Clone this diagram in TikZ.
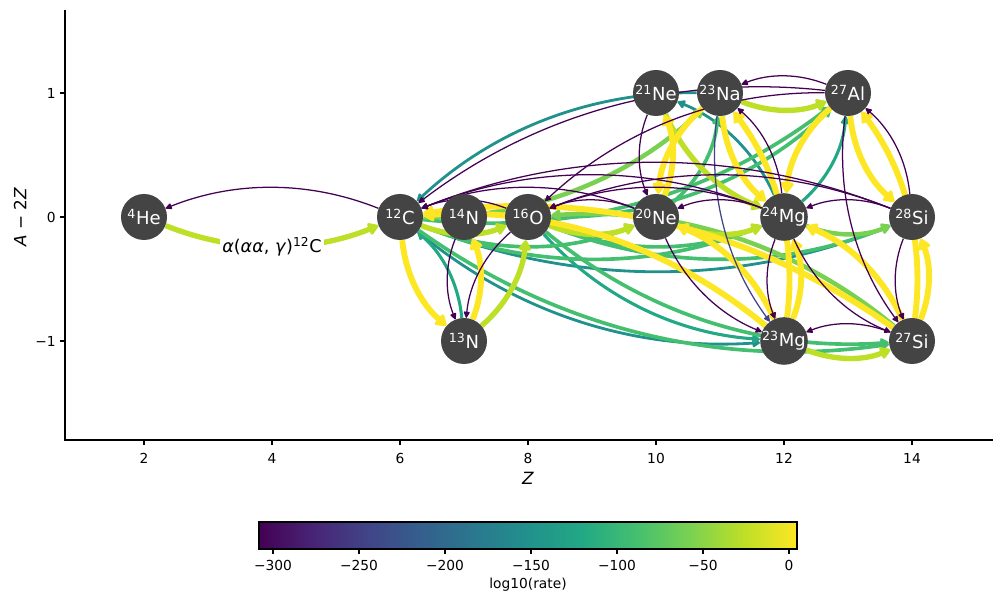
\documentclass[tikz,border=0pt]{standalone}
\usepackage{fontspec}
\setmainfont{DejaVu Sans}
\usetikzlibrary{arrows.meta}
\definecolor{vA}{HTML}{440154}
\definecolor{vB}{HTML}{482475}
\definecolor{vC}{HTML}{414487}
\definecolor{vD}{HTML}{355F8D}
\definecolor{vE}{HTML}{2A788E}
\definecolor{vF}{HTML}{21918C}
\definecolor{vG}{HTML}{22A884}
\definecolor{vH}{HTML}{44BF70}
\definecolor{vI}{HTML}{7AD151}
\definecolor{vJ}{HTML}{BDDF26}
\definecolor{vK}{HTML}{FDE725}
\definecolor{ndark}{HTML}{444444}
\pgfdeclarehorizontalshading{viridisbar}{100bp}{color(0bp)=(vA); color(25bp)=(vA); color(30bp)=(vB); color(35bp)=(vC); color(40bp)=(vD); color(45bp)=(vE); color(50bp)=(vF); color(55bp)=(vG); color(60bp)=(vH); color(65bp)=(vI); color(70bp)=(vJ); color(75bp)=(vK); color(100bp)=(vK)}
\pgfdeclarelayer{edges}
\pgfsetlayers{edges,main}
\begin{document}
\begin{tikzpicture}[x=0.025cm, y=0.025cm,
  nuc/.style={circle, fill=ndark, text=white, minimum size=1.15cm, inner sep=0pt, font=\fontsize{12.8}{14}\selectfont},
  ed/.style={-{Triangle[length=4pt 1.1, width=3pt 1.8, round]}, bend right=21.8, looseness=0.9},
  pur/.style={draw=vA, line width=0.9pt},
  blu/.style={draw=vC, line width=0.9pt},
  tea/.style={draw=vF, line width=2pt},
  tgr/.style={draw=vG, line width=2.2pt},
  grn/.style={draw=vH, line width=2.6pt},
  lgr/.style={draw=vI, line width=3.2pt},
  lim/.style={draw=vJ, line width=3.8pt},
  yel/.style={draw=vK, line width=4.2pt},
  lbl/.style={fill=white, inner sep=1.5pt, text=black, font=\fontsize{12.5}{14}\selectfont},
  tick/.style={font=\fontsize{9.8}{12}\selectfont, inner sep=0pt},
  axl/.style={font=\fontsize{12}{14}\selectfont, inner sep=0pt}]
\useasboundingbox (0,0) rectangle (1003,602);

% axes
\draw[line width=0.8pt] (65,592) -- (65,162) -- (993,162);
\foreach \z in {2,4,...,14} {
  \draw[line width=0.8pt] (16+64*\z,162) -- (16+64*\z,157);
  \node[tick] at (16+64*\z,144) {\z};
}
\foreach \yy/\t in {509/1, 385/0, 261/−1} {
  \draw[line width=0.8pt] (65,\yy) -- (60,\yy);
  \node[tick, anchor=east] at (56,\yy) {\t};
}
\node[axl] at (528,124) {\textit{Z}};
\node[axl, rotate=90] at (20,385) {\textit{A} − 2\textit{Z}};

% colorbar
\shade[shading=viridisbar] (259,53) rectangle (797,80);
\draw[line width=0.8pt] (259,53) rectangle (797,80);
\foreach \xx/\t in {273/−300, 359/−250, 445/−200, 531/−150, 617/−100, 703/−50, 789/0} {
  \draw[line width=0.8pt] (\xx,53) -- (\xx,48);
  \node[tick] at (\xx,37) {\t};
}
\node[tick] at (528,17) {log10(rate)};

% nuclei
\node[nuc] (he4)  at (144,385) {\textsuperscript{4}He};
\node[nuc] (c12)  at (400,385) {\textsuperscript{12}C};
\node[nuc] (n13)  at (464,261) {\textsuperscript{13}N};
\node[nuc] (n14)  at (464,385) {\textsuperscript{14}N};
\node[nuc] (o16)  at (528,385) {\textsuperscript{16}O};
\node[nuc] (ne20) at (656,385) {\textsuperscript{20}Ne};
\node[nuc] (ne21) at (656,509) {\textsuperscript{21}Ne};
\node[nuc] (na23) at (720,509) {\textsuperscript{23}Na};
\node[nuc] (mg23) at (784,261) {\textsuperscript{23}Mg};
\node[nuc] (mg24) at (784,385) {\textsuperscript{24}Mg};
\node[nuc] (al27) at (848,509) {\textsuperscript{27}Al};
\node[nuc] (si27) at (912,261) {\textsuperscript{27}Si};
\node[nuc] (si28) at (912,385) {\textsuperscript{28}Si};

\begin{pgfonlayer}{edges}
\draw[ed,tea] (c12) to (mg23);
\draw[ed,tea] (c12) to (si28);
\draw[ed,tea] (na23) to (c12);
\draw[ed,tea] (mg24) to (ne21);
\draw[ed,tgr] (n13) to (c12);
\draw[ed,tgr] (o16) to (mg23);
\draw[ed,tgr] (mg24) to (al27);
\draw[ed,grn] (c12) to (ne20);
\draw[ed,grn] (c12) to (mg24);
\draw[ed,grn] (o16) to (mg24);
\draw[ed,grn] (c12) to (al27);
\draw[ed,grn] (o16) to (al27);
\draw[ed,grn] (c12) to (si27);
\draw[ed,grn] (o16) to (si27);
\draw[ed,grn] (o16) to (si28);
\draw[ed,grn] (ne20) to (na23);
\draw[ed,lgr] (c12) to (na23);
\draw[ed,lgr] (si27) to (o16);
\draw[ed,lgr] (mg24) to (si28);
\draw[ed,lim] (n13) to (o16);
\draw[ed,lim] (c12) to (o16);
\draw[ed,lim] (o16) to (ne20);
\draw[ed,lim] (ne20) to (mg24);
\draw[ed,lim] (na23) to (al27);
\draw[ed,lim] (mg23) to (si27);
\draw[ed,lim] (ne21) to (mg24);
\draw[ed,yel] (c12) to (n13);
\draw[ed,yel] (n13) to (n14);
\draw[ed,yel] (mg23) to (c12);
\draw[ed,yel] (si27) to (c12);
\draw[ed,yel] (na23) to (ne20);
\draw[ed,yel] (na23) to (mg24);
\draw[ed,yel] (al27) to (mg24);
\draw[ed,yel] (al27) to (si28);
\draw[ed,yel] (si27) to (al27);
\draw[ed,yel] (mg23) to (ne20);
\draw[ed,yel] (mg23) to (mg24);
\draw[ed,yel] (mg23) to (na23);
\draw[ed,yel] (si27) to (mg24);
\draw[ed,yel] (si27) to (si28);
\draw[ed,yel] (ne20) to (ne21);
\draw[ed,blu] (na23) to (mg23);
\draw[ed,pur] (c12) to (he4);
\draw[ed,pur] (o16) to (n13);
\draw[ed,pur] (n14) to (n13);
\draw[ed,pur] (o16) to (c12);
\draw[ed,pur] (ne20) to (o16);
\draw[ed,pur] (mg24) to (ne20);
\draw[ed,pur] (si28) to (mg24);
\draw[ed,pur] (ne20) to (c12);
\draw[ed,pur] (mg24) to (c12);
\draw[ed,pur] (mg24) to (o16);
\draw[ed,pur] (al27) to (c12);
\draw[ed,pur] (al27) to (o16);
\draw[ed,pur] (si28) to (o16);
\draw[ed,pur] (si28) to (c12);
\draw[ed,pur] (mg24) to (na23);
\draw[ed,pur] (si28) to (al27);
\draw[ed,pur] (al27) to (si27);
\draw[ed,pur] (al27) to (na23);
\draw[ed,pur] (ne20) to (mg23);
\draw[ed,pur] (mg24) to (mg23);
\draw[ed,pur] (mg24) to (si27);
\draw[ed,pur] (si28) to (si27);
\draw[ed,pur] (si27) to (mg23);
\draw[ed,pur] (ne21) to (ne20);
\draw[ed,lim] (he4) to node[lbl, midway] {\textit{α}(\textit{αα}, \textit{γ})\textsuperscript{12}C} (c12);
\end{pgfonlayer}
\end{tikzpicture}
\end{document}
